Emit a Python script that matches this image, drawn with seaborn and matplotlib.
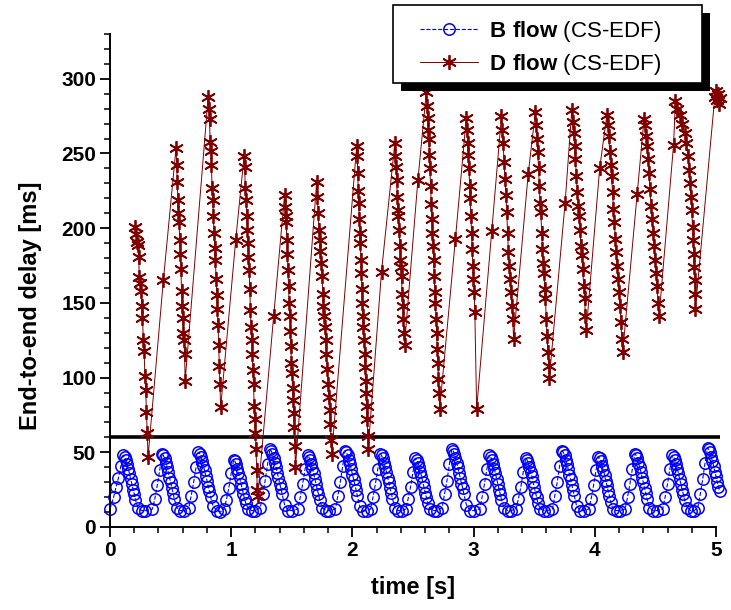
import matplotlib.pyplot as plt
import matplotlib.patches as mpatches
from matplotlib.ticker import MultipleLocator
import seaborn as sns

# B flow (CS-EDF): one line per cycle
b_time = [
    0.00, 0.03, 0.05, 0.07, 0.09, 0.11, 0.12, 0.13, 0.14, 0.15, 0.16, 0.17, 0.18, 0.19, 0.20, 0.21, 0.23, 0.26, 0.29,
    0.35, 0.37, 0.39, 0.41, 0.43, 0.44, 0.45, 0.46, 0.47, 0.48, 0.49, 0.50, 0.51, 0.52, 0.53, 0.55, 0.58, 0.61,
    0.65, 0.67, 0.69, 0.71, 0.73, 0.74, 0.75, 0.76, 0.77, 0.78, 0.79, 0.80, 0.81, 0.82, 0.83, 0.85, 0.88, 0.91,
    0.94, 0.96, 0.98, 1.00, 1.02, 1.03, 1.04, 1.05, 1.06, 1.07, 1.08, 1.09, 1.10, 1.11, 1.12, 1.14, 1.17, 1.20,
    1.24, 1.26, 1.28, 1.30, 1.32, 1.33, 1.34, 1.35, 1.36, 1.37, 1.38, 1.39, 1.40, 1.41, 1.42, 1.44, 1.47, 1.50,
    1.55, 1.57, 1.59, 1.61, 1.63, 1.64, 1.65, 1.66, 1.67, 1.68, 1.69, 1.70, 1.71, 1.72, 1.73, 1.75, 1.78, 1.81,
    1.86, 1.88, 1.90, 1.92, 1.94, 1.95, 1.96, 1.97, 1.98, 1.99, 2.00, 2.01, 2.02, 2.03, 2.04, 2.06, 2.09, 2.12,
    2.15, 2.17, 2.19, 2.21, 2.23, 2.24, 2.25, 2.26, 2.27, 2.28, 2.29, 2.30, 2.31, 2.32, 2.33, 2.35, 2.38, 2.41,
    2.44, 2.46, 2.48, 2.50, 2.52, 2.53, 2.54, 2.55, 2.56, 2.57, 2.58, 2.59, 2.60, 2.61, 2.62, 2.64, 2.67, 2.70,
    2.74, 2.76, 2.78, 2.80, 2.82, 2.83, 2.84, 2.85, 2.86, 2.87, 2.88, 2.89, 2.90, 2.91, 2.92, 2.94, 2.97, 3.00,
    3.05, 3.07, 3.09, 3.11, 3.13, 3.14, 3.15, 3.16, 3.17, 3.18, 3.19, 3.20, 3.21, 3.22, 3.23, 3.25, 3.28, 3.31,
    3.35, 3.37, 3.39, 3.41, 3.43, 3.44, 3.45, 3.46, 3.47, 3.48, 3.49, 3.50, 3.51, 3.52, 3.53, 3.55, 3.58, 3.61,
    3.65, 3.67, 3.69, 3.71, 3.73, 3.74, 3.75, 3.76, 3.77, 3.78, 3.79, 3.80, 3.81, 3.82, 3.83, 3.85, 3.88, 3.91,
    3.95, 3.97, 3.99, 4.01, 4.03, 4.04, 4.05, 4.06, 4.07, 4.08, 4.09, 4.10, 4.11, 4.12, 4.13, 4.15, 4.18, 4.21,
    4.25, 4.27, 4.29, 4.31, 4.33, 4.34, 4.35, 4.36, 4.37, 4.38, 4.39, 4.40, 4.41, 4.42, 4.43, 4.45, 4.48, 4.51,
    4.56, 4.58, 4.60, 4.62, 4.64, 4.65, 4.66, 4.67, 4.68, 4.69, 4.70, 4.71, 4.72, 4.73, 4.74, 4.76, 4.79, 4.82,
    4.85, 4.87, 4.89, 4.91, 4.93, 4.94, 4.95, 4.96, 4.97, 4.98, 4.99, 5.00, 5.01, 5.02, 5.03,
]
b_delay = [
    12, 20, 27, 33, 41, 48, 47, 45, 42, 39, 36, 32, 29, 25, 22, 18, 13, 11, 11,
    12, 19, 28, 38, 49, 48, 46, 43, 40, 37, 33, 30, 26, 23, 19, 13, 11, 11,
    13, 21, 30, 40, 50, 49, 47, 44, 41, 38, 34, 31, 27, 24, 20, 14, 11, 10,
    12, 18, 26, 36, 45, 44, 42, 39, 36, 33, 29, 26, 22, 19, 16, 12, 11, 11,
    13, 22, 31, 42, 52, 51, 49, 46, 43, 40, 36, 33, 29, 26, 22, 15, 11, 11,
    12, 20, 29, 39, 48, 47, 45, 42, 39, 36, 32, 29, 25, 22, 18, 13, 11, 11,
    12, 21, 30, 41, 51, 50, 48, 45, 42, 39, 35, 32, 28, 25, 21, 14, 11, 11,
    12, 20, 29, 39, 49, 48, 46, 43, 40, 37, 33, 30, 26, 23, 19, 13, 11, 11,
    12, 19, 27, 37, 46, 45, 43, 40, 37, 34, 30, 27, 23, 20, 16, 12, 11, 11,
    13, 22, 31, 42, 52, 51, 49, 46, 43, 40, 36, 33, 29, 26, 22, 15, 11, 11,
    12, 20, 29, 39, 48, 47, 45, 42, 39, 36, 32, 29, 25, 22, 18, 13, 11, 11,
    12, 19, 27, 37, 46, 45, 43, 40, 37, 34, 30, 27, 23, 20, 16, 12, 11, 11,
    12, 21, 30, 41, 51, 50, 48, 45, 42, 39, 35, 32, 28, 25, 21, 14, 11, 11,
    12, 19, 28, 38, 47, 46, 44, 41, 38, 35, 31, 28, 24, 21, 17, 12, 11, 11,
    12, 20, 29, 39, 49, 48, 46, 43, 40, 37, 33, 30, 26, 23, 19, 13, 11, 11,
    12, 20, 29, 39, 48, 47, 45, 42, 39, 36, 32, 29, 25, 22, 18, 13, 11, 11,
    13, 22, 32, 43, 53, 52, 50, 47, 44, 41, 37, 34, 30, 27, 24,
]

# D flow (CS-EDF): each falling column, then the rise to the next one
d_time = [
    0.210, 0.216, 0.223, 0.229, 0.236, 0.242, 0.249, 0.255, 0.262, 0.268, 0.275, 0.281, 0.288, 0.294, 0.301, 0.307, 0.314,
    0.440,
    0.545, 0.550, 0.555, 0.560, 0.565, 0.570, 0.575, 0.580, 0.585, 0.590, 0.595, 0.600, 0.605, 0.610, 0.615, 0.620,
    0.810, 0.815, 0.821, 0.826, 0.832, 0.837, 0.842, 0.848, 0.853, 0.858, 0.864, 0.869, 0.875, 0.880, 0.885, 0.891, 0.896, 0.902, 0.907, 0.913,
    1.037,
    1.106, 1.111, 1.116, 1.122, 1.127, 1.132, 1.137, 1.142, 1.148, 1.153, 1.158, 1.163, 1.168, 1.174, 1.179, 1.184, 1.189, 1.194, 1.200, 1.205, 1.210, 1.215, 1.220,
    1.350,
    1.440, 1.445, 1.449, 1.454, 1.459, 1.464, 1.468, 1.473, 1.478, 1.483, 1.487, 1.492, 1.497, 1.502, 1.506, 1.511, 1.516, 1.521, 1.525, 1.530,
    1.705, 1.711, 1.718, 1.724, 1.730, 1.736, 1.743, 1.749, 1.755, 1.761, 1.768, 1.774, 1.780, 1.786, 1.793, 1.799, 1.805, 1.811, 1.818, 1.824, 1.830,
    2.035, 2.039, 2.044, 2.048, 2.052, 2.057, 2.061, 2.065, 2.070, 2.074, 2.078, 2.083, 2.087, 2.091, 2.095, 2.100, 2.104, 2.108, 2.113, 2.117, 2.121, 2.126, 2.130,
    2.240,
    2.350, 2.355, 2.360, 2.365, 2.370, 2.375, 2.380, 2.385, 2.390, 2.395, 2.400, 2.405, 2.410, 2.415, 2.420, 2.425, 2.430,
    2.540,
    2.610, 2.615, 2.620, 2.625, 2.630, 2.635, 2.640, 2.645, 2.650, 2.655, 2.660, 2.665, 2.670, 2.675, 2.680, 2.685, 2.690, 2.695, 2.700, 2.705, 2.710, 2.715, 2.720,
    2.850,
    2.940, 2.945, 2.951, 2.956, 2.962, 2.967, 2.972, 2.978, 2.983, 2.988, 2.994, 2.999, 3.005, 3.010, 3.025,
    3.150,
    3.230, 3.237, 3.244, 3.251, 3.259, 3.266, 3.273, 3.280, 3.287, 3.294, 3.301, 3.309, 3.316, 3.323, 3.330,
    3.450,
    3.510, 3.516, 3.523, 3.529, 3.536, 3.542, 3.548, 3.555, 3.561, 3.568, 3.574, 3.580, 3.587, 3.593, 3.599, 3.606, 3.612, 3.619, 3.625,
    3.755,
    3.810, 3.818, 3.825, 3.833, 3.840, 3.848, 3.855, 3.863, 3.870, 3.878, 3.885, 3.893, 3.900, 3.908, 3.915, 3.923, 3.930,
    4.040,
    4.100, 4.108, 4.115, 4.123, 4.131, 4.138, 4.146, 4.154, 4.161, 4.169, 4.176, 4.184, 4.192, 4.199, 4.207, 4.215, 4.222, 4.230,
    4.350,
    4.406, 4.414, 4.423, 4.431, 4.439, 4.447, 4.456, 4.464, 4.472, 4.480, 4.489, 4.497, 4.505, 4.513, 4.522, 4.530,
    4.650,
    4.665, 4.680, 4.700, 4.720, 4.740, 4.755, 4.770, 4.778, 4.786, 4.793, 4.800, 4.806, 4.812, 4.817, 4.821, 4.825, 4.828, 4.830,
    4.990, 5.000, 5.010, 5.020, 5.025, 5.030,
]
d_delay = [
    201, 196, 191, 189, 181, 167, 163, 158, 148, 140, 125, 118, 101, 92, 77, 63, 47,
    165,
    254, 242, 231, 219, 210, 204, 192, 183, 173, 158, 148, 140, 130, 125, 116, 98,
    288, 280, 273, 258, 252, 242, 227, 219, 208, 197, 187, 179, 166, 155, 146, 135, 122, 108, 96, 80,
    192,
    248, 241, 227, 219, 208, 199, 190, 181, 172, 159, 145, 134, 125, 116, 105, 96, 81, 72, 63, 52, 38, 25, 21,
    141,
    222, 214, 208, 204, 192, 183, 172, 161, 150, 141, 131, 121, 110, 103, 93, 85, 76, 67, 54, 40,
    231, 221, 210, 199, 192, 185, 177, 168, 156, 148, 141, 134, 125, 116, 106, 96, 87, 78, 69, 58, 49,
    255, 248, 237, 225, 217, 206, 197, 190, 179, 170, 159, 150, 141, 134, 125, 116, 107, 98, 90, 81, 72, 61, 52,
    171,
    257, 248, 241, 232, 221, 212, 208, 199, 188, 179, 174, 168, 156, 148, 139, 130, 122,
    232,
    291, 282, 274, 266, 260, 249, 240, 228, 216, 206, 197, 188, 179, 168, 157, 150, 139, 130, 119, 110, 99, 90, 79,
    193,
    274, 266, 257, 249, 240, 228, 220, 208, 197, 186, 175, 166, 157, 144, 79,
    198,
    275, 266, 257, 244, 233, 222, 211, 197, 184, 175, 166, 157, 148, 139, 126,
    236,
    278, 269, 260, 251, 240, 228, 217, 211, 197, 186, 177, 170, 159, 153, 139, 128, 117, 108, 100,
    217,
    279, 271, 264, 255, 246, 235, 224, 215, 208, 199, 188, 182, 173, 161, 153, 141, 132,
    240,
    276, 269, 262, 251, 242, 235, 224, 213, 204, 193, 184, 175, 166, 157, 148, 137, 126, 117,
    223,
    273, 269, 262, 255, 246, 237, 226, 215, 206, 197, 188, 179, 170, 161, 150, 141,
    256,
    285, 280, 276, 270, 264, 257, 248, 239, 230, 221, 212, 201, 192, 183, 174, 165, 156, 146,
    288, 292, 286, 290, 283, 287,
]

x_ticks = [0, 1, 2, 3, 4, 5]
x_tick_labels = ['0', '1', '2', '3', '4', '5']
y_ticks = [0, 50, 100, 150, 200, 250, 300]
y_tick_labels = ['0', '50', '100', '150', '200', '250', '300']
threshold = 60
legend_labels = [r'$\mathbf{B\ flow}$ (CS-EDF)', r'$\mathbf{D\ flow}$ (CS-EDF)']

sns.set_theme(style='ticks')
plt.rcParams['font.family'] = ['Liberation Sans', 'DejaVu Sans']
plt.rcParams['mathtext.fontset'] = 'custom'
plt.rcParams['mathtext.rm'] = 'Liberation Sans'
plt.rcParams['mathtext.bf'] = 'Liberation Sans:bold'
for key in ['text.color', 'axes.labelcolor', 'xtick.color', 'ytick.color', 'axes.edgecolor']:
    plt.rcParams[key] = 'black'

fig = plt.figure(figsize=(7.31, 6.10), dpi=100)
ax = fig.add_axes([0.1505, 0.1361, 0.829, 0.8082])

sns.lineplot(x=b_time, y=b_delay, sort=False, estimator=None, ax=ax,
             color='#0000ff', linestyle='--', linewidth=0.8,
             marker='o', markersize=8.2, markerfacecolor='none',
             markeredgecolor='#0000ff', markeredgewidth=1.1, clip_on=False)
b_line = ax.lines[-1]

ax.plot([0, 5.03], [threshold, threshold], color='black', lw=2.6,
        solid_capstyle='butt', clip_on=False)

sns.lineplot(x=d_time, y=d_delay, sort=False, estimator=None, ax=ax,
             color='#800000', linewidth=0.7,
             marker=(6, 2, 0), markersize=10.5, markeredgecolor='#800000',
             markeredgewidth=1.3, clip_on=False)
d_line = ax.lines[-1]

ax.set_xlim(0, 5)
ax.set_ylim(0, 330)
ax.set_xticks(x_ticks, labels=x_tick_labels, fontsize=15, fontweight='bold')
ax.set_yticks(y_ticks, labels=y_tick_labels, fontsize=15, fontweight='bold')
ax.xaxis.set_minor_locator(MultipleLocator(0.2))
ax.yaxis.set_minor_locator(MultipleLocator(10))
ax.tick_params(which='major', direction='out', length=7, width=1.3, pad=3, colors='black')
ax.tick_params(which='minor', direction='out', length=4, width=1.1, colors='black')

sns.despine(ax=ax)
for s in ['left', 'bottom']:
    ax.spines[s].set_linewidth(1.4)
    ax.spines[s].set_color('black')

ax.set_xlabel('time [s]', fontsize=17, fontweight='bold')
ax.set_ylabel('End-to-end delay [ms]', fontsize=17, fontweight='bold')
ax.xaxis.set_label_coords(0.5, -0.1)
ax.yaxis.set_label_coords(-0.112, 0.448)

# legend box with an offset black shadow, drawn in figure pixels
W, H = 731, 610
box_x0, box_y0, box_x1, box_y1 = 393, 5, 702, 83
shadow = mpatches.Rectangle(((box_x0 + 8) / W, 1 - (box_y1 + 8) / H),
                            (box_x1 - box_x0) / W, (box_y1 - box_y0) / H,
                            transform=fig.transFigure, facecolor='black',
                            edgecolor='none', zorder=4)
frame = mpatches.Rectangle((box_x0 / W, 1 - box_y1 / H),
                           (box_x1 - box_x0) / W, (box_y1 - box_y0) / H,
                           transform=fig.transFigure, facecolor='white',
                           edgecolor='black', linewidth=1.2, zorder=4.5)
fig.add_artist(shadow)
fig.add_artist(frame)

leg = fig.legend(handles=[b_line, d_line], labels=legend_labels,
                 loc='upper left', bbox_to_anchor=(420 / W, 1 - 19 / H),
                 frameon=False, fontsize=16, handlelength=2.6, borderpad=0,
                 labelspacing=0.35, handletextpad=0.5, borderaxespad=0)
leg.set_zorder(5)

fig.savefig('out.png', dpi=100)
